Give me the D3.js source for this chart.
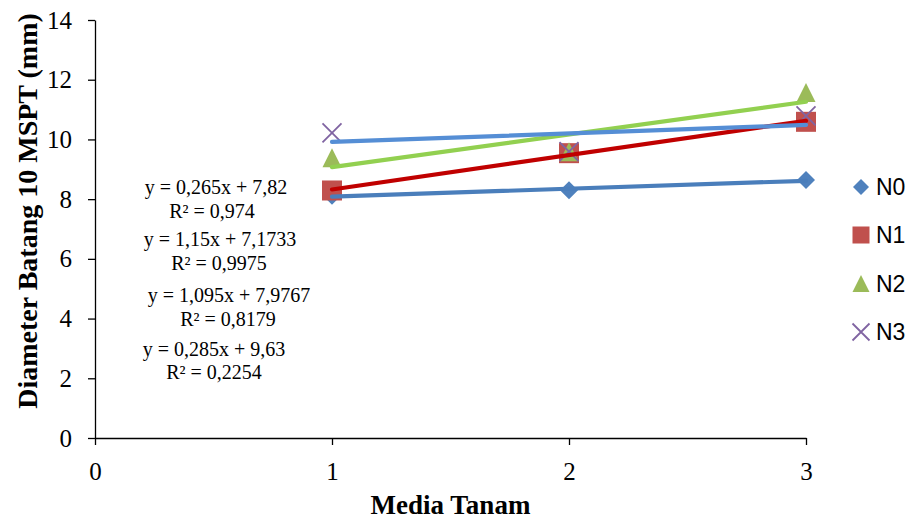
<!DOCTYPE html>
<html>
<head>
<meta charset="utf-8">
<script src="https://cdn.jsdelivr.net/npm/d3@7"></script>
<style>
  html, body { margin: 0; padding: 0; background: #fff; }
  svg { display: block; }
</style>
</head>
<body>
<svg id="chart" width="908" height="520"></svg>
<script>
// ---- data ----
const xValues = [1, 2, 3];
const seriesNames = ["N0", "N1", "N2", "N3"];
const n0 = [8.11, 8.30, 8.64];
const n1 = [8.29, 9.54, 10.59];
const n2 = [9.37, 9.57, 11.56];
const n3 = [10.22, 9.59, 10.79];
const slopes = [0.265, 1.15, 1.095, 0.285];
const intercepts = [7.82, 7.1733, 7.9767, 9.63];
const eqLabels = ["y = 0,265x + 7,82", "y = 1,15x + 7,1733", "y = 1,095x + 7,9767", "y = 0,285x + 9,63"];
const r2Labels = ["R² = 0,974", "R² = 0,9975", "R² = 0,8179", "R² = 0,2254"];
const xTicks = [0, 1, 2, 3];
const yTicks = [0, 2, 4, 6, 8, 10, 12, 14];
const xTitle = "Media Tanam";
const yTitle = "Diameter Batang 10 MSPT (mm)";

const seriesValues = [n0, n1, n2, n3];
const markerColors = ["#4F81BD", "#C0504D", "#9BBB59", "#8064A2"];
const trendColors = ["#4A7EBB", "#C00000", "#92D050", "#558ED5"];
const markerTypes = ["diamond", "square", "triangle", "x"];

const svg = d3.select("#chart");
const x = d3.scaleLinear().domain([0, 3]).range([95, 806]);
const y = d3.scaleLinear().domain([0, 14]).range([438, 20]);

// axes
const yAxis = d3.axisLeft(y).tickValues(yTicks).tickSize(7).tickSizeOuter(0).tickPadding(16).tickFormat(d3.format("d"));
const xAxis = d3.axisBottom(x).tickValues(xTicks).tickSize(7).tickSizeOuter(0).tickPadding(17).tickFormat(d3.format("d"));

const gy = svg.append("g").attr("transform", `translate(${x(0)},0)`).call(yAxis);
const gx = svg.append("g").attr("transform", `translate(0,${y(0)})`).call(xAxis);
[gx, gy].forEach(g => {
  g.selectAll("path, line").attr("stroke", "#000").attr("stroke-width", 1.3);
  g.selectAll("text").attr("font-family", "'Liberation Serif', 'Times New Roman', serif").attr("font-size", 25).attr("fill", "#000");
});

function drawMarker(g, type, cx, cy, color, size) {
  const h = size / 2;
  if (type === "diamond") {
    g.append("path").attr("d", `M${cx},${cy - h}L${cx + h},${cy}L${cx},${cy + h}L${cx - h},${cy}Z`)
      .attr("fill", color);
  } else if (type === "square") {
    g.append("rect").attr("x", cx - h).attr("y", cy - h).attr("width", size).attr("height", size)
      .attr("fill", color);
  } else if (type === "triangle") {
    g.append("path").attr("d", `M${cx},${cy - h * 1.05}L${cx + h},${cy + h * 0.95}L${cx - h},${cy + h * 0.95}Z`)
      .attr("fill", color);
  } else if (type === "x") {
    g.append("path").attr("d", `M${cx - h},${cy - h}L${cx + h},${cy + h}M${cx - h},${cy + h}L${cx + h},${cy - h}`)
      .attr("stroke", color).attr("stroke-width", 1.8).attr("fill", "none");
  }
}

const gm = svg.append("g");
seriesValues.forEach((vals, i) => {
  vals.forEach((v, j) => {
    const sz = markerTypes[i] === "diamond" ? 18 : (markerTypes[i] === "square" ? 20 : 19);
    drawMarker(gm, markerTypes[i], x(xValues[j]), y(v), markerColors[i], sz);
  });
});

// trendlines
const gt = svg.append("g");
slopes.forEach((m, i) => {
  const x0 = d3.min(xValues), x1 = d3.max(xValues);
  gt.append("line")
    .attr("x1", x(x0)).attr("y1", y(m * x0 + intercepts[i]))
    .attr("x2", x(x1)).attr("y2", y(m * x1 + intercepts[i]))
    .attr("stroke", trendColors[i]).attr("stroke-width", 4.2).attr("stroke-linecap", "round");
});

// equation labels
const eqPos = [[216, 194, 212, 218], [220, 246, 219, 270], [229, 302, 228, 326], [214, 356, 214, 379]];
const ge = svg.append("g").attr("font-family", "'Liberation Serif', 'Times New Roman', serif").attr("font-size", 20).attr("fill", "#000").attr("text-anchor", "middle");
eqLabels.forEach((t, i) => {
  ge.append("text").attr("x", eqPos[i][0]).attr("y", eqPos[i][1]).text(t);
  ge.append("text").attr("x", eqPos[i][2]).attr("y", eqPos[i][3]).text(r2Labels[i]);
});

// legend
const legY = [187, 235, 284, 332];
const gl = svg.append("g");
seriesNames.forEach((name, i) => {
  const sz = markerTypes[i] === "diamond" ? 16 : 17;
  drawMarker(gl, markerTypes[i], 861, legY[i], markerColors[i], sz);
  gl.append("text").attr("x", 876).attr("y", legY[i]).attr("dy", "0.36em")
    .attr("font-family", "'Liberation Sans', Arial, sans-serif").attr("font-size", 23).attr("fill", "#000")
    .text(name);
});

// axis titles
svg.append("text").attr("x", (x(0) + x(3)) / 2).attr("y", 514).attr("text-anchor", "middle")
  .attr("font-family", "'Liberation Serif', 'Times New Roman', serif").attr("font-weight", "bold").attr("font-size", 27)
  .text(xTitle);
svg.append("text").attr("transform", "translate(37,211) rotate(-90)").attr("text-anchor", "middle")
  .attr("font-family", "'Liberation Serif', 'Times New Roman', serif").attr("font-weight", "bold").attr("font-size", 28)
  .text(yTitle);
</script>
</body>
</html>
